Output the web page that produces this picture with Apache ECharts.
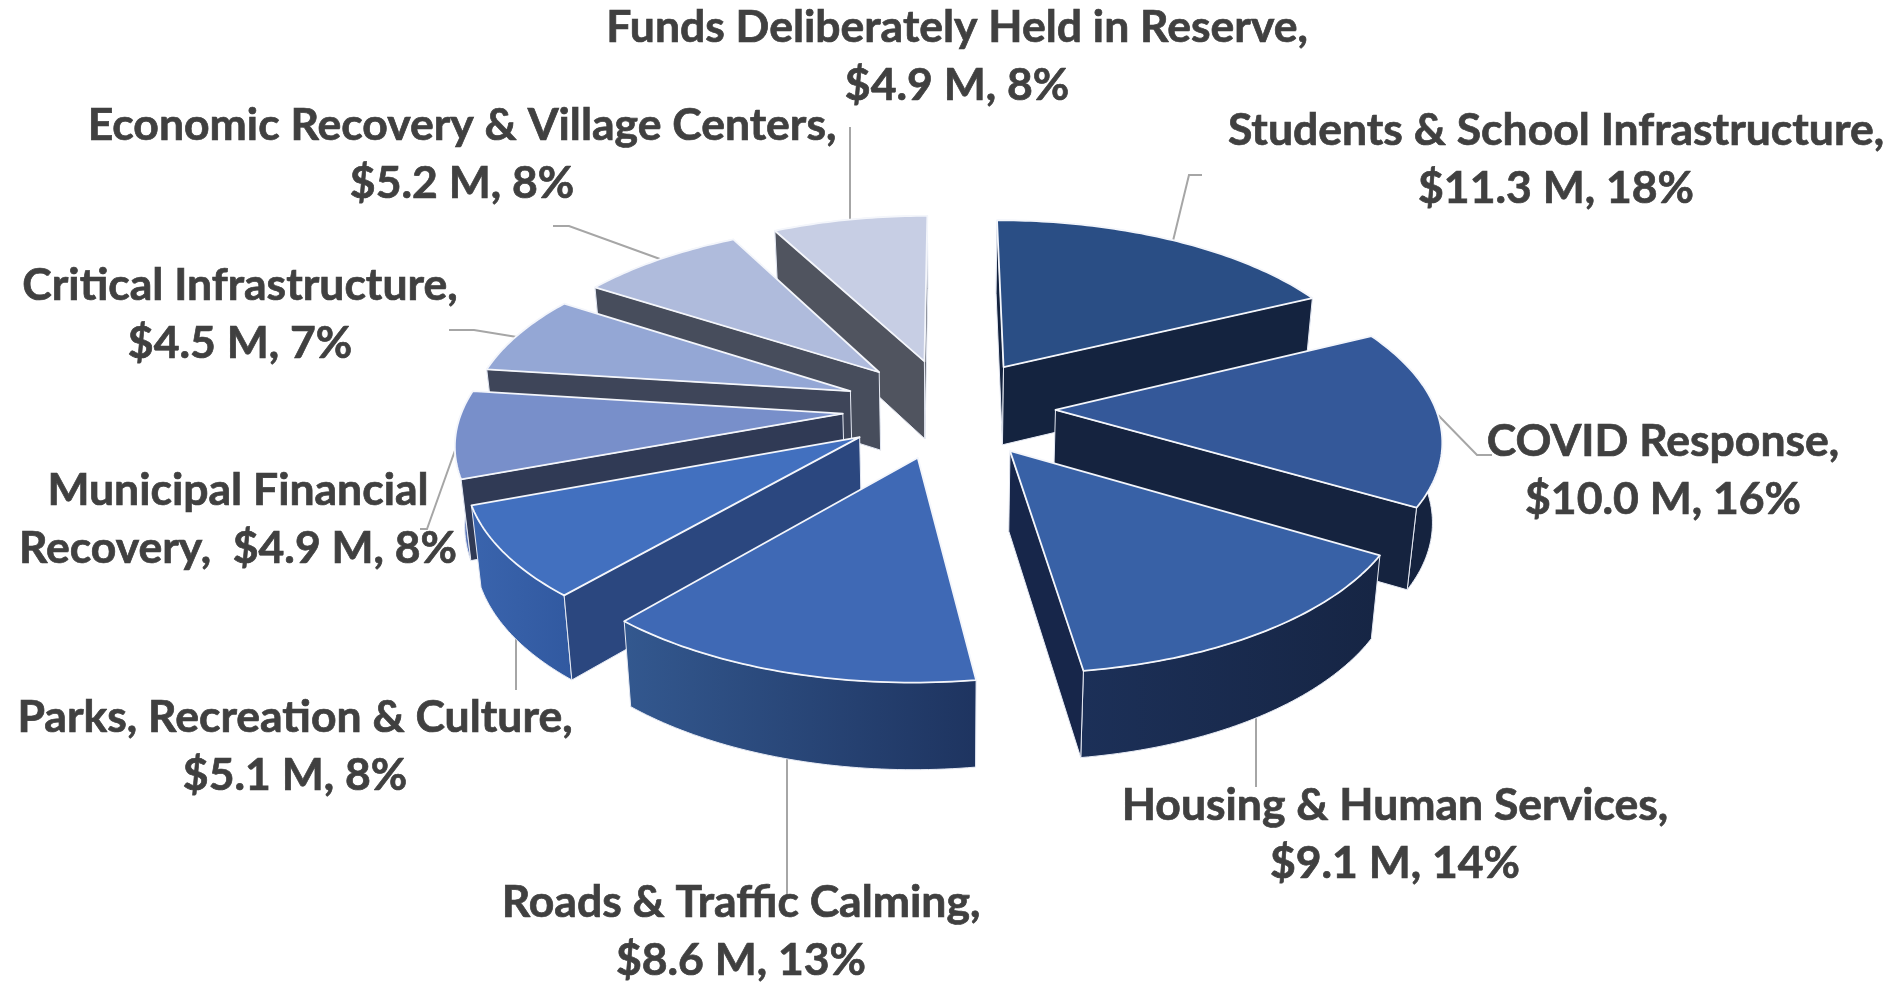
<!DOCTYPE html>
<html>
<head>
<meta charset="utf-8">
<title>Budget</title>
<style>
  html, body { margin: 0; padding: 0; background: #fff; }
  #chart { width: 1898px; height: 982px; }
</style>
<script src="https://cdn.jsdelivr.net/npm/echarts@6/dist/echarts.min.js"></script>
</head>
<body>
<div id="chart"></div>
<script>
// data, clockwise from 12 o'clock
const categories = [
  "Students & School Infrastructure",
  "COVID Response",
  "Housing & Human Services",
  "Roads & Traffic Calming",
  "Parks, Recreation & Culture",
  "Municipal Financial\nRecovery",
  "Critical Infrastructure",
  "Economic Recovery & Village Centers",
  "Funds Deliberately Held in Reserve",
]
const amounts = [11.3, 10.0, 9.1, 8.6, 5.1, 4.9, 4.5, 5.2, 4.9]
const percents = [18, 16, 14, 13, 8, 8, 7, 8, 8]
const separators = [",\n", ",\n", ",\n", ",\n", ",\n", ",  ", ",\n", ",\n", ",\n"]

// slice colours
const topColors = ["#2a4e85", "#345899", "#3861a6", "#3f69b5", "#4270bf", "#788fca", "#94a7d5", "#afbbdc", "#c7cee4"]
const wallColors = ["#14233f", "#15233f", "#17264a", "#2b477f", "#2b477f", "#303a55", "#3e4559", "#474d5c", "#50545f"]
const rimLeft = ["#14233f", "#15233f", "#1c3058", "#33588f", "#3a64ad", "#5a76b8", "#6f86bd", "#8594bb", "#8f99b5"]
const rimRight = ["#14233f", "#15233f", "#162544", "#1e3460", "#3159a0", "#5a76b8", "#6f86bd", "#8594bb", "#8f99b5"]

// label centres and leader lines, in page pixels
const labelPos = [[1556, 160], [1663, 471], [1395, 835], [741, 932], [295, 747], [238, 520], [240, 315], [462, 155], [957, 57]]
const leaders = [
  [[1202, 175], [1189, 175], [1172, 245]],
  [[1438, 415], [1477, 455], [1492, 455]],
  [[1256, 710], [1256, 787]],
  [[787, 755], [787, 897]],
  [[516, 628], [516, 690]],
  [[420, 529], [427, 529], [458, 442]],
  [[449, 330], [474, 330], [523, 338]],
  [[553, 226], [569, 226], [660, 259]],
  [[850, 127], [850, 222]],
]

// projection of the tilted pie
const view = { cx: 949, cy: 408, rx: 380, ry: 178, persp: 0.14, explode: 0.28, height: 79, shrink: 0.98 }

const total = amounts.reduce((a, b) => a + b, 0)
const slices = []
let acc = 0
amounts.forEach((v, i) => {
  const start = (acc / total) * 2 * Math.PI
  acc += v
  const end = (acc / total) * 2 * Math.PI
  slices.push({ start, end, mid: (start + end) / 2 })
})

function project(u, v, bottom) {
  const s = 1 / (1 - view.persp * v)
  let x = view.cx + view.rx * u * s
  let y = view.cy + view.ry * v * s
  if (bottom) {
    x = view.cx + (x - view.cx) * view.shrink
    y += view.height * Math.sqrt(s)
  }
  return [x, y]
}

function signedArea(pts) {
  let sum = 0
  pts.forEach((p, k) => {
    const q = pts[(k + 1) % pts.length]
    sum += p[0] * q[1] - q[0] * p[1]
  })
  return sum
}

function renderSlice(params, api) {
  const i = api.value(0)
  const sl = slices[i]
  const ou = view.explode * Math.sin(sl.mid)
  const ov = -view.explode * Math.cos(sl.mid)
  const n = Math.ceil(((sl.end - sl.start) * 180) / Math.PI)
  const angles = []
  for (let k = 0; k <= n; k++) angles.push(sl.start + ((sl.end - sl.start) * k) / n)

  const rimTop = angles.map((a) => project(ou + Math.sin(a), ov - Math.cos(a), false))
  const rimBot = angles.map((a) => project(ou + Math.sin(a), ov - Math.cos(a), true))
  const apexTop = project(ou, ov, false)
  const apexBot = project(ou, ov, true)
  const edge = { stroke: "#e6eaf4", lineWidth: 1, lineJoin: "round" }

  const children = [
    {
      type: "polygon",
      shape: { points: rimTop.concat(rimBot.slice().reverse()) },
      style: {
        fill: new echarts.graphic.LinearGradient(0, 0, 1, 0, [
          { offset: 0, color: rimLeft[i] },
          { offset: 1, color: rimRight[i] },
        ]),
        ...edge,
      },
    },
  ]
  // a wall only shows when it faces the viewer
  const startWall = [apexTop, rimTop[0], rimBot[0], apexBot]
  const endWall = [apexTop, rimTop[n], rimBot[n], apexBot]
  if (signedArea(startWall) < 0) {
    children.push({ type: "polygon", shape: { points: startWall }, style: { fill: wallColors[i], ...edge } })
  }
  if (signedArea(endWall) > 0) {
    children.push({ type: "polygon", shape: { points: endWall }, style: { fill: wallColors[i], ...edge } })
  }
  children.push({
    type: "polygon",
    shape: { points: [apexTop].concat(rimTop) },
    style: { fill: topColors[i], stroke: "#f4f6fb", lineWidth: 1.8, lineJoin: "round" },
  })
  return { type: "group", children }
}

function renderLeader(params, api) {
  return {
    type: "polyline",
    shape: { points: leaders[api.value(0)] },
    style: { fill: null, stroke: "#a6a6a6", lineWidth: 2 },
  }
}

function renderLabel(params, api) {
  const i = api.value(0)
  return {
    type: "text",
    style: {
      x: labelPos[i][0],
      y: labelPos[i][1],
      text: categories[i] + separators[i] + "$" + amounts[i].toFixed(1) + " M, " + percents[i] + "%",
      font: "700 44.5px Lato",
      fill: "#404040",
      stroke: "#404040",
      lineWidth: 0.7,
      align: "center",
      verticalAlign: "middle",
      lineHeight: 58,
    },
  }
}

// back slices first so the near ones cover them
const drawOrder = slices
  .map((sl, i) => ({ i, depth: -Math.cos(sl.mid) }))
  .sort((a, b) => a.depth - b.depth)
  .map((d) => [d.i])
const allIdx = categories.map((c, i) => [i])

const myChart = echarts.init(document.getElementById("chart"))
myChart.setOption({
  animation: false,
  backgroundColor: "#ffffff",
  series: [
    { type: "custom", coordinateSystem: "none", z: 1, silent: true, data: allIdx, renderItem: renderLeader },
    { type: "custom", coordinateSystem: "none", z: 2, silent: true, data: drawOrder, renderItem: renderSlice },
    { type: "custom", coordinateSystem: "none", z: 3, silent: true, data: allIdx, renderItem: renderLabel },
  ],
})
</script>
</body>
</html>
